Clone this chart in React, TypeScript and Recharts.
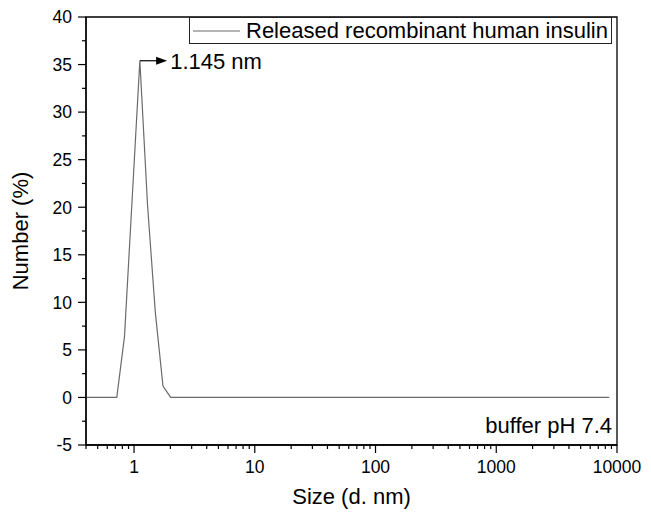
import React from 'react';
import { LineChart, Line, XAxis, YAxis, ReferenceArea, ReferenceLine, Legend, Label } from 'recharts';

// Size bins (d. nm) and number distribution (%)
const SIZES_NM = [
  0.4, 0.4632, 0.5365, 0.6213, 0.7195, 0.8332, 0.9649, 1.117, 1.294, 1.499,
  1.736, 2.01, 2.328, 2.696, 3.122, 3.615, 4.187, 4.849, 5.615, 6.503,
  7.531, 8.721, 10.1, 11.7, 13.54, 15.69, 18.17, 21.04, 24.36, 28.21,
  32.67, 37.84, 43.82, 50.75, 58.77, 68.06, 78.82, 91.28, 105.7, 122.4,
  141.8, 164.2, 190.1, 220.2, 255, 295.3, 342, 396.1, 458.7, 531.2,
  615.1, 712.4, 825, 955.4, 1106, 1281, 1484, 1718, 1990, 2305,
  2669, 3091, 3580, 4145, 4801, 5560, 6439, 7456, 8635,
];
const NUMBER_PCT = [
  0, 0, 0, 0, 0, 6.4, 20.9, 35.4, 20.2, 9.0,
  1.2, 0, 0, 0, 0, 0, 0, 0, 0, 0,
  0, 0, 0, 0, 0, 0, 0, 0, 0, 0,
  0, 0, 0, 0, 0, 0, 0, 0, 0, 0,
  0, 0, 0, 0, 0, 0, 0, 0, 0, 0,
  0, 0, 0, 0, 0, 0, 0, 0, 0, 0,
  0, 0, 0, 0, 0, 0, 0, 0, 0,
];
const SERIES_NAME = 'Released recombinant human insulin';

const X_MAJOR_TICKS = [1, 10, 100, 1000, 10000];
const X_TICK_LABELS = ['1', '10', '100', '1000', '10000'];
const X_ALL_TICKS = [
  0.4, 0.5, 0.6, 0.7, 0.8, 0.9,
  1, 2, 3, 4, 5, 6, 7, 8, 9,
  10, 20, 30, 40, 50, 60, 70, 80, 90,
  100, 200, 300, 400, 500, 600, 700, 800, 900,
  1000, 2000, 3000, 4000, 5000, 6000, 7000, 8000, 9000,
  10000,
];
const X_DOMAIN = [0.4, 10000];

const Y_MAJOR_TICKS = [-5, 0, 5, 10, 15, 20, 25, 30, 35, 40];
const Y_TICK_LABELS = ['-5', '0', '5', '10', '15', '20', '25', '30', '35', '40'];
const Y_ALL_TICKS = [-5, -2.5, 0, 2.5, 5, 7.5, 10, 12.5, 15, 17.5, 20, 22.5, 25, 27.5, 30, 32.5, 35, 37.5, 40];
const Y_DOMAIN = [-5, 40];

const PEAK_LABEL = '1.145 nm';
const ARROW_SEGMENT = [{ x: 1.117, y: 35.4 }, { x: 1.88, y: 35.4 }];
const CONDITION_LABEL = 'buffer pH 7.4';

const data = SIZES_NM.map((s, i) => ({ size: s, number: NUMBER_PCT[i] }));

const FONT = "'Liberation Sans', Arial, sans-serif";

const XTick = (props: any) => {
  const { x, y, payload } = props;
  const v = payload.value;
  const idx = X_MAJOR_TICKS.indexOf(v);
  const major = idx >= 0;
  return (
    <g>
      <line x1={x} y1={y} x2={x} y2={y + (major ? 8 : 4)} stroke="#000" strokeWidth={1.2} />
      {major && (
        <text x={x} y={y + 16} dy="0.71em" textAnchor="middle" fontSize={17.5} fill="#000" fontFamily={FONT}>
          {X_TICK_LABELS[idx]}
        </text>
      )}
    </g>
  );
};

const YTick = (props: any) => {
  const { x, y, payload } = props;
  const v = payload.value;
  const idx = Y_MAJOR_TICKS.indexOf(v);
  const major = idx >= 0;
  return (
    <g>
      <line x1={x} y1={y} x2={x - (major ? 8 : 4)} y2={y} stroke="#000" strokeWidth={1.2} />
      {major && (
        <text x={x - 14} y={y} dy="0.36em" textAnchor="end" fontSize={17.5} fill="#000" fontFamily={FONT}>
          {Y_TICK_LABELS[idx]}
        </text>
      )}
    </g>
  );
};

const ArrowShape = (props: any) => {
  const { x1, y1, x2, y2 } = props;
  return (
    <g>
      <line x1={x1} y1={y1} x2={x2 - 9} y2={y2} stroke="#000" strokeWidth={1.2} />
      <path d={`M${x2},${y2} L${x2 - 11},${y2 - 4} L${x2 - 11},${y2 + 4} Z`} fill="#000" />
    </g>
  );
};

const LegendBox = (props: any) => {
  const item = props.payload && props.payload[0];
  return (
    <div
      style={{
        boxSizing: 'border-box',
        width: 423,
        height: 27,
        border: '1px solid #222',
        display: 'flex',
        alignItems: 'center',
        background: '#fff',
        fontFamily: FONT,
      }}
    >
      <svg width={56} height={10} style={{ flex: 'none' }}>
        <line x1={3} y1={5} x2={50} y2={5} stroke={item ? item.color : '#666'} strokeWidth={1.2} />
      </svg>
      <span style={{ fontSize: 22, lineHeight: '22px', color: '#000', whiteSpace: 'nowrap' }}>
        {item ? item.value : SERIES_NAME}
      </span>
    </div>
  );
};

const ConditionLabel = (props: any) => {
  const vb = props.viewBox;
  if (!vb) return null;
  return (
    <text x={vb.x + vb.width - 5} y={vb.y + vb.height - 12} textAnchor="end" fontSize={22} fill="#000" fontFamily={FONT}>
      {CONDITION_LABEL}
    </text>
  );
};

export default function App() {
  return (
    <LineChart
      width={643}
      height={514}
      data={data}
      margin={{ top: 9, right: 34, left: 0, bottom: 0 }}
      style={{ fontFamily: FONT }}
    >
      <XAxis
        dataKey="size"
        type="number"
        scale="log"
        domain={X_DOMAIN}
        allowDataOverflow
        ticks={X_ALL_TICKS}
        interval={0}
        tick={<XTick />}
        tickLine={false}
        tickSize={0}
        tickMargin={0}
        height={77}
        axisLine={{ stroke: '#000', strokeWidth: 1.3 }}
      >
        <Label value="Size (d. nm)" position="insideBottom" offset={18} fontSize={22} fill="#000" />
      </XAxis>
      <YAxis
        type="number"
        domain={Y_DOMAIN}
        allowDataOverflow
        ticks={Y_ALL_TICKS}
        interval={0}
        tick={<YTick />}
        tickLine={false}
        tickSize={0}
        tickMargin={0}
        width={78}
        axisLine={{ stroke: '#000', strokeWidth: 1.3 }}
      >
        <Label
          value="Number (%)"
          angle={-90}
          position="insideLeft"
          offset={12}
          fontSize={22}
          fill="#000"
          style={{ textAnchor: 'middle' }}
        />
      </YAxis>
      <ReferenceArea
        x1={X_DOMAIN[0]}
        x2={X_DOMAIN[1]}
        y1={Y_DOMAIN[0]}
        y2={Y_DOMAIN[1]}
        fill="none"
        stroke="#000"
        strokeWidth={1.3}
        label={<ConditionLabel />}
      />
      <Legend
        layout="vertical"
        align="center"
        verticalAlign="middle"
        content={<LegendBox />}
        wrapperStyle={{ left: 181, top: 9, width: 423, height: 27 }}
      />
      <Line
        name={SERIES_NAME}
        type="linear"
        dataKey="number"
        stroke="#6b6b6b"
        strokeWidth={1.2}
        dot={false}
        activeDot={false}
        isAnimationActive={false}
      />
      <ReferenceLine segment={ARROW_SEGMENT} shape={<ArrowShape />} stroke="#000">
        <Label value={PEAK_LABEL} position="right" offset={3} fontSize={22} fill="#000" />
      </ReferenceLine>
    </LineChart>
  );
}
